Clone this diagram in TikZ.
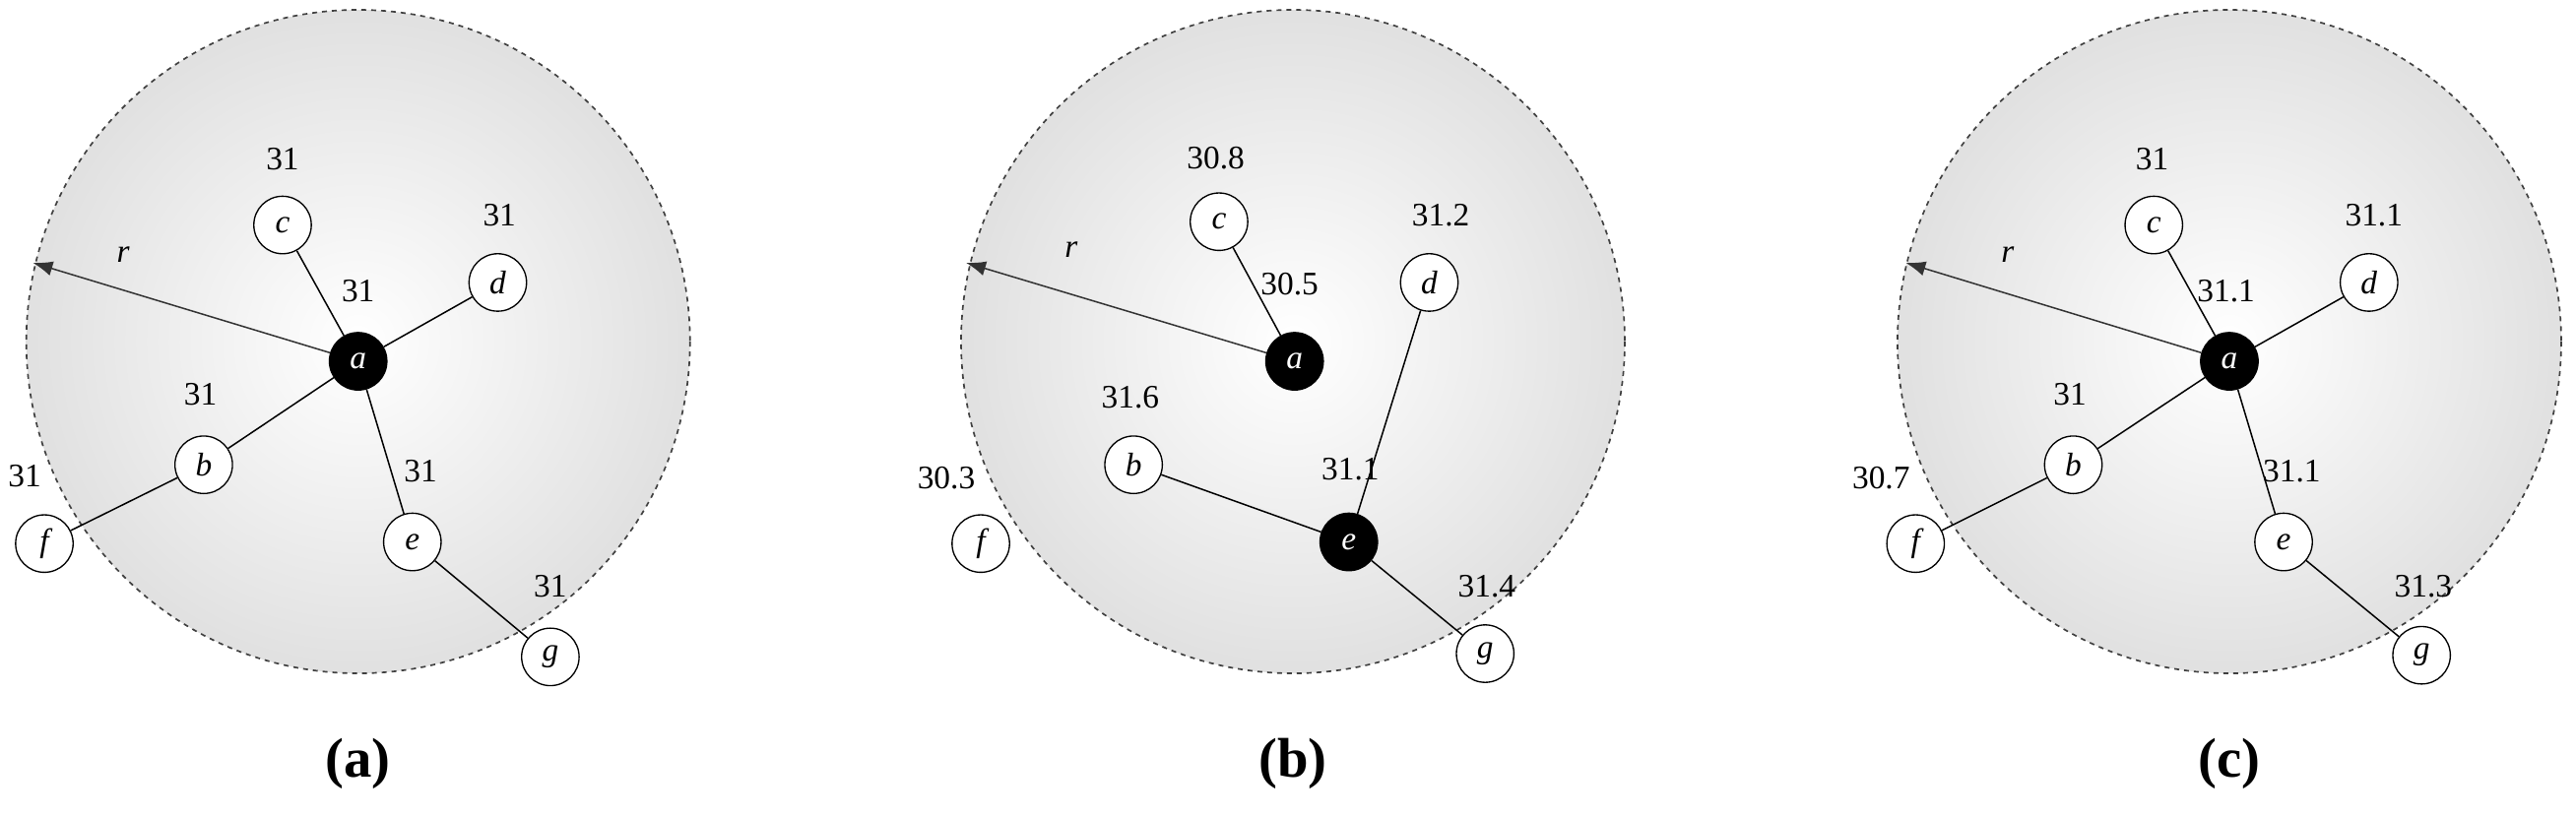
\documentclass[tikz,border=0pt]{standalone}
\usepackage{fontspec}
\setmainfont{Liberation Serif}
\usetikzlibrary{arrows.meta}
\begin{document}
\begin{tikzpicture}[x=1pt,y=-1pt,
  area/.style={draw=black!75,dashed,line width=1pt,inner color=white,outer color=black!12},
  v/.style={circle,draw,fill=white,minimum size=35pt,inner sep=0pt,font=\fontsize{20}{24}\selectfont\itshape,line width=0.8pt},
  hv/.style={v,fill=black,text=white},
  num/.style={font=\fontsize{20}{24}\selectfont},
  e/.style={line width=0.9pt},
  rad/.style={line width=0.9pt,-{Latex[length=12pt,width=9pt]},draw=black!80},
  capt/.style={font=\fontsize{34}{40}\selectfont\bfseries}]
\useasboundingbox (0,0) rectangle (1568,497);
% panel a
\draw[area] (218,208) circle (202);
\node[hv] (a1) at (218,220) {a};
\node[v] (c1) at (172,137) {c};
\node[v] (d1) at (303,172) {d};
\node[v] (b1) at (124,283) {b};
\node[v] (e1) at (251,330) {e};
\node[v] (f1) at (27,331) {f};
\node[v] (g1) at (335,400) {g};
\coordinate (r1) at (20,160);
\draw[e] (a1)--(c1) (a1)--(d1) (a1)--(b1) (a1)--(e1) (b1)--(f1) (e1)--(g1);
\draw[rad] (a1)--(r1);
\node[num] (ra) at (75,155) {\itshape r};
\node[num] (la1) at (218,177) {31};
\node[num] (lc1) at (172,97) {31};
\node[num] (ld1) at (304,131) {31};
\node[num] (lb1) at (122,240) {31};
\node[num] (le1) at (256,287) {31};
\node[num] (lf1) at (15,290) {31};
\node[num] (lg1) at (335,357) {31};
\node[capt] (ca) at (218,465) {(a)};
% panel b
\draw[area] (787,208) circle (202);
\node[hv] (a2) at (788,220) {a};
\node[v] (c2) at (742,135) {c};
\node[v] (d2) at (870,172) {d};
\node[v] (b2) at (690,283) {b};
\node[hv] (e2) at (821,330) {e};
\node[v] (f2) at (597,331) {f};
\node[v] (g2) at (904,398) {g};
\coordinate (r2) at (588,160);
\draw[e] (a2)--(c2) (d2)--(e2) (b2)--(e2) (e2)--(g2);
\draw[rad] (a2)--(r2);
\node[num] (rb) at (652,152) {\itshape r};
\node[num] (la2) at (785,173) {30.5};
\node[num] (lc2) at (740,96) {30.8};
\node[num] (ld2) at (877,131) {31.2};
\node[num] (lb2) at (688,242) {31.6};
\node[num] (le2) at (822,286) {31.1};
\node[num] (lf2) at (576,291) {30.3};
\node[num] (lg2) at (905,357) {31.4};
\node[capt] (cb) at (787,465) {(b)};
% panel c
\draw[area] (1357,208) circle (202);
\node[hv] (a3) at (1357,220) {a};
\node[v] (c3) at (1311,137) {c};
\node[v] (d3) at (1442,172) {d};
\node[v] (b3) at (1262,283) {b};
\node[v] (e3) at (1390,330) {e};
\node[v] (f3) at (1166,331) {f};
\node[v] (g3) at (1474,399) {g};
\coordinate (r3) at (1160,160);
\draw[e] (a3)--(c3) (a3)--(d3) (a3)--(b3) (a3)--(e3) (b3)--(f3) (e3)--(g3);
\draw[rad] (a3)--(r3);
\node[num] (rc) at (1222,155) {\itshape r};
\node[num] (la3) at (1355,177) {31.1};
\node[num] (lc3) at (1310,97) {31};
\node[num] (ld3) at (1445,131) {31.1};
\node[num] (lb3) at (1260,240) {31};
\node[num] (le3) at (1395,287) {31.1};
\node[num] (lf3) at (1145,291) {30.7};
\node[num] (lg3) at (1475,357) {31.3};
\node[capt] (cc) at (1357,465) {(c)};
\end{tikzpicture}
\end{document}
